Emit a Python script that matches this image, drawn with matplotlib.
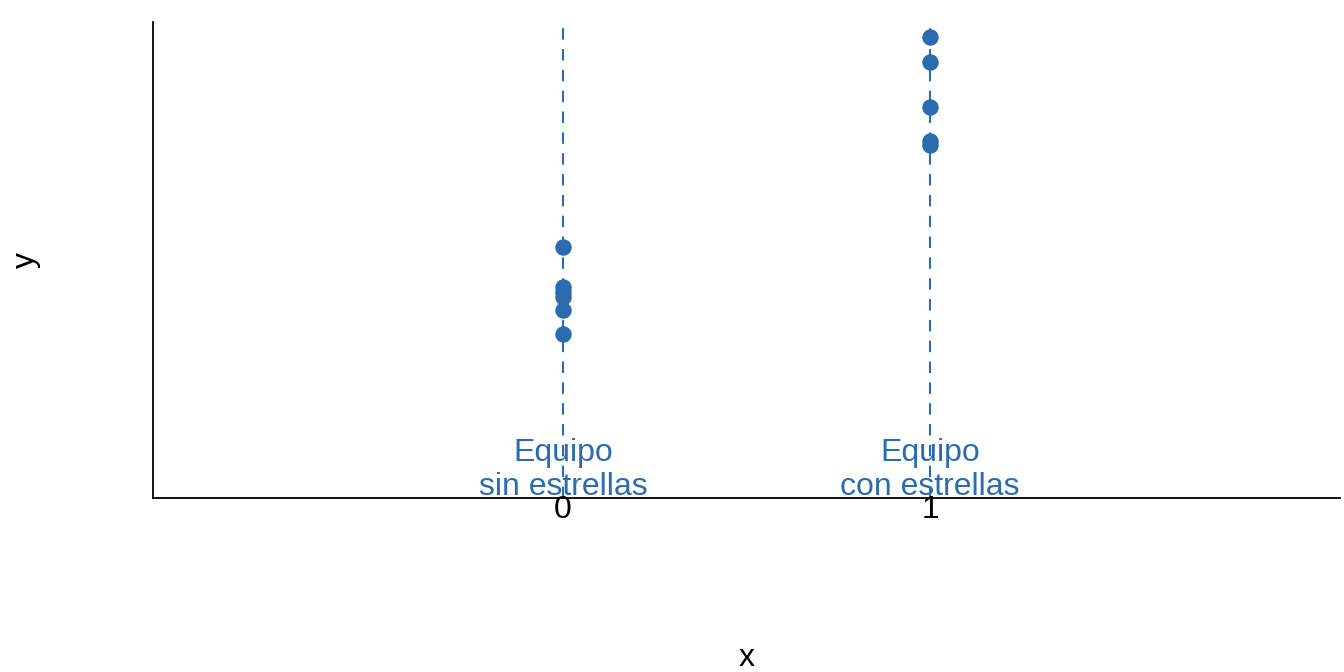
import matplotlib
matplotlib.use("Agg")
import matplotlib.pyplot as plt

plt.rcParams['font.family'] = ['Liberation Sans', 'DejaVu Sans']

blue = "#2B6CB0"

# group positions and labels
groups = [0, 1]
group_labels = ["Equipo\nsin estrellas", "Equipo\ncon estrellas"]

# points (arbitrary y units, axis is unlabelled)
y_sin = [0.527, 0.443, 0.433, 0.422, 0.395, 0.345]
y_con = [0.968, 0.916, 0.821, 0.750, 0.742]

fig = plt.figure(figsize=(13.44, 6.72), dpi=100)
ax = fig.add_axes([153/1344, 1 - 498/672, (1340 - 153)/1344, (498 - 22)/672])

for g in groups:
    ax.axvline(g, color=blue, linestyle=(0, (5.5, 4.5)), linewidth=1.5, zorder=1)

ax.scatter([0]*len(y_sin), y_sin, s=140, color=blue, zorder=3, linewidths=0)
ax.scatter([1]*len(y_con), y_con, s=140, color=blue, zorder=3, linewidths=0)

for g, lab in zip(groups, group_labels):
    ax.text(g, 0.007, lab, ha='center', va='baseline', color=blue, fontsize=23,
            linespacing=1.15, zorder=2)

ax.set_xlim(-1.117, 2.117)
ax.set_ylim(0, 1)
ax.set_xticks(groups)
ax.set_xticklabels(["0", "1"], fontsize=23)
ax.set_yticks([])
ax.tick_params(axis='x', length=0, pad=-2)

for side in ['top', 'right']:
    ax.spines[side].set_visible(False)
for side in ['left', 'bottom']:
    ax.spines[side].set_linewidth(1.3)

ax.set_xlabel("x", fontsize=23)
ax.set_ylabel("y", fontsize=23)
ax.yaxis.set_label_coords(-112/1187, 0.5)
ax.xaxis.set_label_coords(0.5, -(643 - 498)/476)

fig.savefig("out.png", dpi=100)
